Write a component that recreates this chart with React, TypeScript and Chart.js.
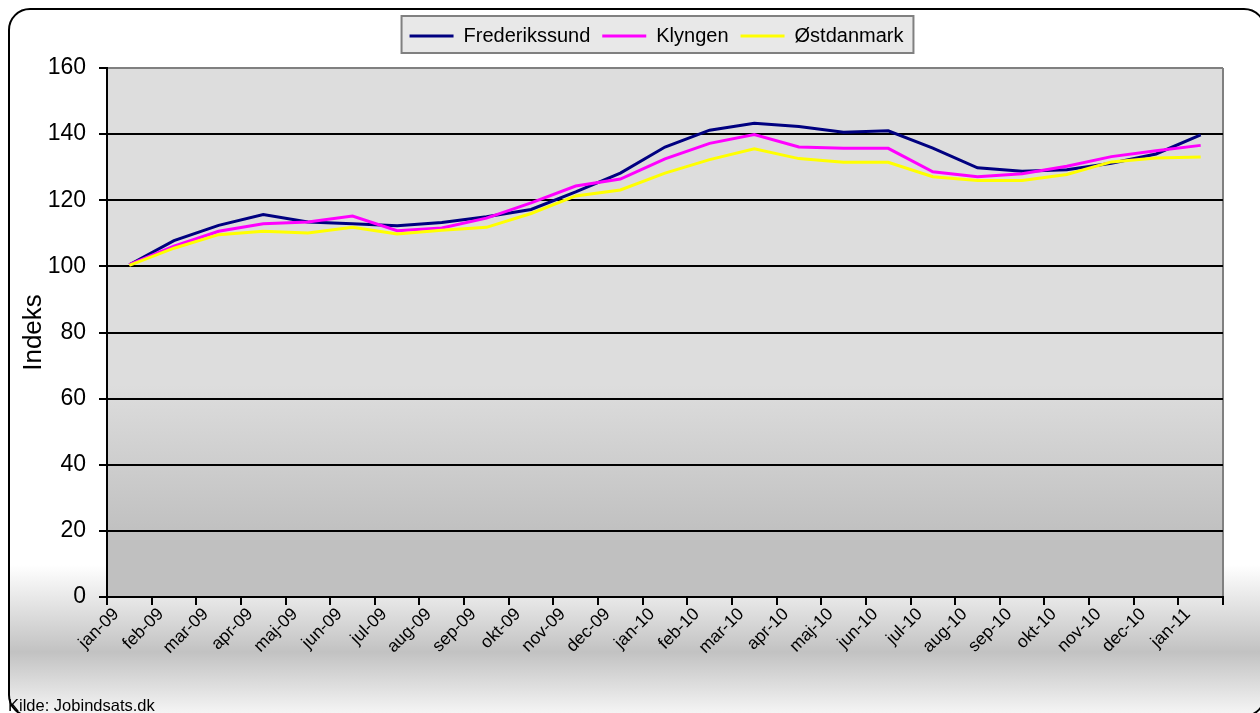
import React, { useEffect, useRef } from "react";
import { Chart, registerables } from "chart.js";

Chart.register(...registerables);

const categories = [
  "jan-09", "feb-09", "mar-09", "apr-09", "maj-09", "jun-09", "jul-09", "aug-09",
  "sep-09", "okt-09", "nov-09", "dec-09", "jan-10", "feb-10", "mar-10", "apr-10",
  "maj-10", "jun-10", "jul-10", "aug-10", "sep-10", "okt-10", "nov-10", "dec-10", "jan-11",
];

const frederikssund = [
  100.5, 107.8, 112.4, 115.7, 113.4, 112.9, 112.3, 113.3, 115.0, 117.2, 122.5, 128.2,
  136.1, 141.2, 143.3, 142.3, 140.6, 141.0, 135.8, 129.8, 128.8, 129.2, 131.2, 134.0, 139.8,
];

const klyngen = [
  100.5, 106.1, 110.6, 112.9, 113.4, 115.2, 110.8, 111.6, 114.6, 119.2, 124.3, 126.4,
  132.5, 137.2, 139.9, 136.1, 135.7, 135.7, 128.6, 127.1, 128.0, 130.3, 133.2, 135.0, 136.6,
];

const ostdanmark = [
  100.3, 105.5, 109.6, 110.6, 110.1, 111.8, 109.8, 110.9, 111.8, 116.0, 121.3, 123.1,
  128.2, 132.3, 135.6, 132.6, 131.5, 131.5, 127.1, 126.0, 126.0, 127.8, 131.6, 132.8, 133.1,
];

const seriesNames = ["Frederikssund", "Klyngen", "Østdanmark"];
const seriesColors = ["#000080", "#FF00FF", "#FFFF00"];

const yMin = 0;
const yMax = 160;
const yStep = 20;

const FONT = "'Liberation Sans', Arial, sans-serif";

export default function App() {
  const ref = useRef<HTMLCanvasElement>(null);

  useEffect(() => {
    if (!ref.current) return;

    const decorPlugin = {
      id: "decor",
      beforeLayout(chart: any) {
        const lg = chart.legend;
        if (lg && !lg.__patched) {
          lg.__patched = true;
          const origFit = lg.fit;
          lg.fit = function (...args: any[]) {
            origFit.apply(this, args);
            this.height += 12;
          };
        }
      },
      afterLayout(chart: any) {
        const lg = chart.legend;
        if (lg) {
          lg.left += 45;
          lg.right += 45;
        }
      },
      beforeDraw(chart: any) {
        const { ctx, chartArea: a } = chart;
        ctx.save();
        const g = ctx.createLinearGradient(0, a.top, 0, a.bottom);
        g.addColorStop(0, "#DDDDDD");
        g.addColorStop(0.6, "#DDDDDD");
        g.addColorStop(0.88, "#C0C0C0");
        g.addColorStop(1, "#C0C0C0");
        ctx.fillStyle = g;
        ctx.fillRect(a.left, a.top, a.right - a.left, a.bottom - a.top);
        ctx.strokeStyle = "#808080";
        ctx.lineWidth = 2;
        ctx.beginPath();
        ctx.moveTo(a.right, a.top);
        ctx.lineTo(a.right, a.bottom);
        ctx.stroke();

        const hb = chart.legend && chart.legend.legendHitBoxes;
        if (hb && hb.length) {
          const l = Math.min(...hb.map((h: any) => h.left)) - 8;
          const r = Math.max(...hb.map((h: any) => h.left + h.width)) + 10;
          const t = hb[0].top - 10;
          const b = hb[0].top + hb[0].height + 7;
          ctx.fillStyle = "#E8E8E8";
          ctx.fillRect(l, t, r - l, b - t);
          ctx.strokeStyle = "#808080";
          ctx.lineWidth = 2;
          ctx.strokeRect(l, t, r - l, b - t);
        }
        ctx.restore();
      },
    };

    const data = [frederikssund, klyngen, ostdanmark];

    const chart = new Chart(ref.current, {
      type: "line",
      data: {
        labels: categories,
        datasets: data.map((d, i) => ({
          label: seriesNames[i],
          data: d,
          borderColor: seriesColors[i],
          backgroundColor: seriesColors[i],
          borderWidth: 3,
          pointRadius: 0,
          tension: 0,
          fill: false,
          order: 2 - i,
        })),
      },
      options: {
        animation: false,
        responsive: false,
        devicePixelRatio: 1,
        layout: { padding: { top: 14, right: 37, left: 0, bottom: 0 } },
        plugins: {
          tooltip: { enabled: false },
          legend: {
            display: true,
            position: "top",
            labels: {
              boxWidth: 44,
              boxHeight: 3,
              padding: 12,
              color: "#000",
              font: { family: FONT, size: 20 },
              generateLabels: (c: any) =>
                Chart.defaults.plugins.legend.labels
                  .generateLabels(c)
                  .map((l: any) => ({ ...l, lineWidth: 0, fillStyle: l.strokeStyle }))
                  .sort((p: any, q: any) => p.datasetIndex - q.datasetIndex),
            },
          },
        },
        scales: {
          x: {
            type: "category",
            offset: true,
            grid: {
              display: true,
              drawOnChartArea: false,
              drawTicks: true,
              tickLength: 8,
              color: "#000",
              lineWidth: 2,
              offset: true,
            },
            border: { display: true, color: "#000", width: 2 },
            ticks: {
              color: "#000",
              font: { family: FONT, size: 17.5 },
              minRotation: 45,
              maxRotation: 45,
              autoSkip: false,
              padding: -1,
              labelOffset: -13,
            },
            afterFit: (s: any) => {
              s.height = 116;
            },
          },
          y: {
            min: yMin,
            max: yMax,
            ticks: {
              stepSize: yStep,
              color: "#000",
              font: { family: FONT, size: 23 },
              padding: 13,
            },
            grid: {
              color: (ctx: any) => (ctx.tick && ctx.tick.value === yMax ? "#808080" : "#000"),
              tickColor: "#000",
              lineWidth: 2,
              tickLength: 8,
              drawTicks: true,
            },
            border: { display: true, color: "#000", width: 2 },
            title: {
              display: true,
              text: "Indeks",
              color: "#000",
              font: { family: FONT, size: 26 },
              padding: { top: 18, bottom: 0 },
            },
            afterFit: (s: any) => {
              s.width = 107;
            },
          },
        },
      },
      plugins: [decorPlugin],
    });

    return () => chart.destroy();
  }, []);

  return (
    <div
      style={{
        position: "fixed",
        inset: 0,
        overflow: "hidden",
        background: "#fff",
      }}
    >
      <div
        style={{
          position: "absolute",
          left: 8,
          top: 8,
          width: 1258,
          height: 709,
          boxSizing: "border-box",
          border: "2px solid #000",
          borderRadius: 22,
          background:
            "linear-gradient(to bottom, #ffffff 0px, #ffffff 555px, #c2c2c2 642px, #f6f6f6 705px)",
        }}
      />
      <canvas
        ref={ref}
        width={1260}
        height={713}
        style={{ position: "absolute", left: 0, top: 0, width: 1260, height: 713 }}
      />
      <div
        style={{
          position: "absolute",
          left: 8,
          top: 697,
          fontFamily: FONT,
          fontSize: 16.5,
          lineHeight: "16px",
          color: "#000",
          whiteSpace: "nowrap",
        }}
      >
        Kilde: Jobindsats.dk
      </div>
    </div>
  );
}
